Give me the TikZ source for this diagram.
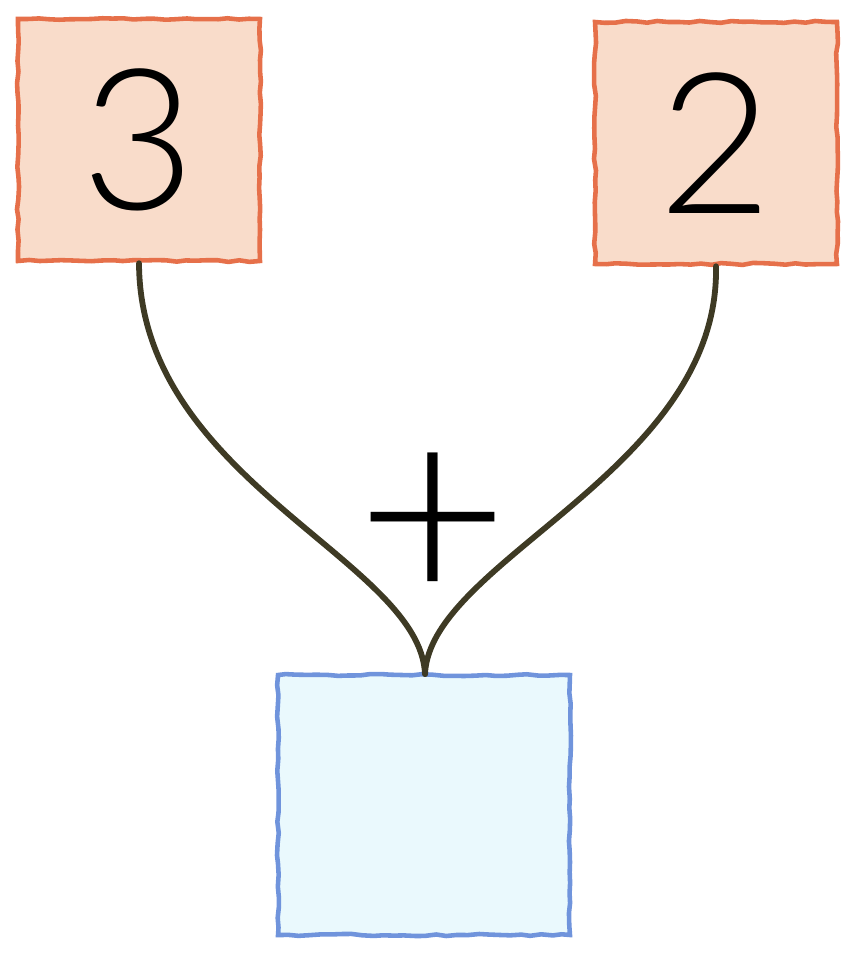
\documentclass[tikz,border=0pt]{standalone}
\usepackage{fontspec}
\setmainfont{Lato}[UprightFont={* Light}]
\usetikzlibrary{decorations.pathmorphing}
\definecolor{peach}{RGB}{249,220,202}
\definecolor{rust}{RGB}{230,112,74}
\definecolor{icy}{RGB}{234,249,253}
\definecolor{cornflower}{RGB}{112,148,220}
\definecolor{stem}{RGB}{62,58,36}
\begin{document}
\begin{tikzpicture}[x=0.02cm,y=-0.02cm,
    card/.style={minimum width=4.84cm,minimum height=4.84cm,line width=2.6pt,
      decorate,decoration={random steps,segment length=6pt,amplitude=0.6pt},
      font=\fontsize{112}{112}\selectfont},
    addend/.style={card,draw=rust,fill=peach},
    answer/.style={card,draw=cornflower,fill=icy,minimum width=5.84cm,minimum height=5.2cm},
    stem/.style={draw=stem,line width=3.3pt,line cap=round}]
            \useasboundingbox (0,0) rectangle (867,962);
            \node[addend] (three) at (139,140) {3};
            \node[addend] (two) at (716,143) {2};
            \node[answer] (sum) at (424,805) {};
            \coordinate (knot) at (425,674);
            \draw[stem] (three.south) .. controls (140,480) and (420,560) .. (knot);
            \draw[stem] (two.south) .. controls (720,470) and (430,560) .. (knot);
            \node[font=\fontsize{150}{150}\selectfont] (plus) at (433,529) {+};
        \end{tikzpicture}
\end{document}
